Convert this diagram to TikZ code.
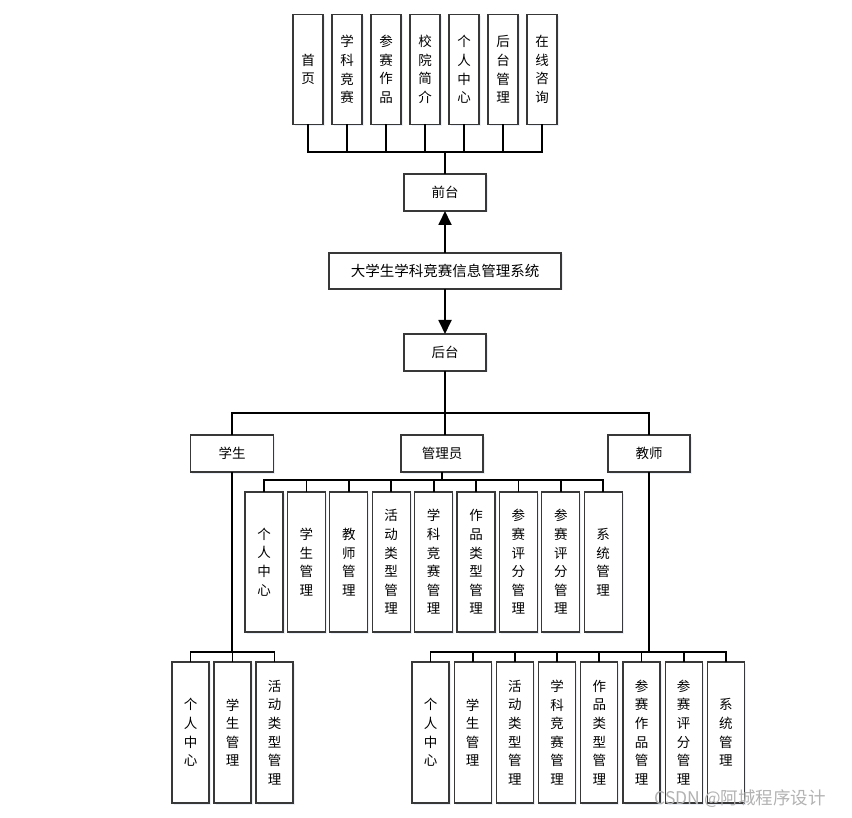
\documentclass[tikz,border=0pt]{standalone}
\usepackage{fontspec}
\newfontfamily\cjk{Noto Sans CJK SC}
\usepackage{xcolor}
\usepackage{tikz}
\usetikzlibrary{positioning,arrows.meta,shadows}
\definecolor{frame-gray}{rgb}{0.22,0.22,0.22}
\definecolor{shade-blue}{rgb}{0.55,0.65,0.85}

\begin{document}
\begin{tikzpicture}[x=1pt, y=-1pt, module/.style = {shape=rectangle,
        draw=frame-gray, line width=1.2pt, fill=white, align=center,
        inner sep=0pt, outer sep=0pt, font=\cjk\fontsize{13.5}{18.6}\selectfont,
        drop shadow={shadow xshift=1.5pt, shadow yshift=-1.5pt,
          fill=shade-blue, opacity=0.18}},
      topbox/.style = {module, minimum width=30pt, minimum height=110pt},
      headbox/.style = {module, minimum width=82pt, minimum height=37pt},
      adminbox/.style = {module, minimum width=38pt, minimum height=140pt},
      leafbox/.style = {module, minimum width=37pt, minimum height=141pt},
      link/.style = {line width=1.8pt, black},
      post/.style = {link, -{Triangle[length=14pt, width=13pt]}}]

      \useasboundingbox (0,0) rectangle (852,818);

      % front end
      \node [topbox] (fHome) at (308,69.5) {首\\页};
      \node [topbox] (fContest) [right=9pt of fHome] {学\\科\\竞\\赛};
      \node [topbox] (fWorks) [right=9pt of fContest] {参\\赛\\作\\品};
      \node [topbox] (fIntro) [right=9pt of fWorks] {校\\院\\简\\介};
      \node [topbox] (fPersonal) [right=9pt of fIntro] {个\\人\\中\\心};
      \node [topbox] (fAdmin) [right=9pt of fPersonal] {后\\台\\管\\理};
      \node [topbox] (fConsult) [right=9pt of fAdmin] {在\\线\\咨\\询};

      \node [headbox] (front) at (445,192.5) {前台};
      \node [module, minimum width=232pt, minimum height=36pt,
        font=\cjk\fontsize{14.5}{18}\selectfont] (system)
        at (445,271) {大学生学科竞赛信息管理系统};
      \node [headbox] (back) at (445,352.5) {后台};

      % roles
      \node [headbox, minimum width=83pt] (student) at (232,453.5) {学生};
      \node [headbox] (admin) at (442,453.5) {管理员};
      \node [headbox] (teacher) at (649,453.5) {教师};

      % admin modules
      \node [adminbox] (aPersonal) at (264,562) {个\\人\\中\\心};
      \node [adminbox] (aStudent) [right=4.4pt of aPersonal] {学\\生\\管\\理};
      \node [adminbox] (aTeacher) [right=4.4pt of aStudent] {教\\师\\管\\理};
      \node [adminbox] (aActivity) [right=4.4pt of aTeacher] {活\\动\\类\\型\\管\\理};
      \node [adminbox] (aContest) [right=4.4pt of aActivity] {学\\科\\竞\\赛\\管\\理};
      \node [adminbox] (aWorkType) [right=4.4pt of aContest] {作\\品\\类\\型\\管\\理};
      \node [adminbox] (aScoreA) [right=4.4pt of aWorkType] {参\\赛\\评\\分\\管\\理};
      \node [adminbox] (aScoreB) [right=4.4pt of aScoreA] {参\\赛\\评\\分\\管\\理};
      \node [adminbox] (aSystem) [right=4.4pt of aScoreB] {系\\统\\管\\理};

      % student modules
      \node [leafbox] (sPersonal) at (190.5,732.5) {个\\人\\中\\心};
      \node [leafbox] (sStudent) [right=5pt of sPersonal] {学\\生\\管\\理};
      \node [leafbox] (sActivity) [right=5pt of sStudent] {活\\动\\类\\型\\管\\理};

      % teacher modules
      \node [leafbox] (tPersonal) at (430.5,732.5) {个\\人\\中\\心};
      \node [leafbox] (tStudent) [right=5.2pt of tPersonal] {学\\生\\管\\理};
      \node [leafbox] (tActivity) [right=5.2pt of tStudent] {活\\动\\类\\型\\管\\理};
      \node [leafbox] (tContest) [right=5.2pt of tActivity] {学\\科\\竞\\赛\\管\\理};
      \node [leafbox] (tWorkType) [right=5.2pt of tContest] {作\\品\\类\\型\\管\\理};
      \node [leafbox] (tWorks) [right=5.2pt of tWorkType] {参\\赛\\作\\品\\管\\理};
      \node [leafbox] (tScore) [right=5.2pt of tWorks] {参\\赛\\评\\分\\管\\理};
      \node [leafbox] (tSystem) [right=5.2pt of tScore] {系\\统\\管\\理};

      \node [font=\cjk\fontsize{17.5}{17.5}\selectfont, text=black!30] (mark)
        at (740,799) {CSDN @阿城程序设计};

      % connectors
      \draw [link] (front.north) -- ++(0,-22) -| (fHome.south)
        (front.north) -- ++(0,-22) -| (fContest.south)
        (front.north) -- ++(0,-22) -| (fWorks.south)
        (front.north) -- ++(0,-22) -| (fIntro.south)
        (front.north) -- ++(0,-22) -| (fPersonal.south)
        (front.north) -- ++(0,-22) -| (fAdmin.south)
        (front.north) -- ++(0,-22) -| (fConsult.south);
      \draw [post] (system.north) -- (front.south);
      \draw [post] (system.south) -- (back.north);
      \draw [link] (back.south) -- ++(0,42) -| (student.north)
        (back.south) -- ++(0,42) -| (teacher.north)
        (back.south) -- (back.south |- admin.north);
      \draw [link] (admin.south) -- ++(0,8) -| (aPersonal.north)
        (admin.south) -- ++(0,8) -| (aStudent.north)
        (admin.south) -- ++(0,8) -| (aTeacher.north)
        (admin.south) -- ++(0,8) -| (aActivity.north)
        (admin.south) -- ++(0,8) -| (aContest.north)
        (admin.south) -- ++(0,8) -| (aWorkType.north)
        (admin.south) -- ++(0,8) -| (aScoreA.north)
        (admin.south) -- ++(0,8) -| (aScoreB.north)
        (admin.south) -- ++(0,8) -| (aSystem.north);
      \draw [link] (student.south) -- ++(0,180) -| (sPersonal.north)
        (student.south) -- ++(0,180) -| (sStudent.north)
        (student.south) -- ++(0,180) -| (sActivity.north);
      \draw [link] (teacher.south) -- ++(0,180) -| (tPersonal.north)
        (teacher.south) -- ++(0,180) -| (tStudent.north)
        (teacher.south) -- ++(0,180) -| (tActivity.north)
        (teacher.south) -- ++(0,180) -| (tContest.north)
        (teacher.south) -- ++(0,180) -| (tWorkType.north)
        (teacher.south) -- ++(0,180) -| (tWorks.north)
        (teacher.south) -- ++(0,180) -| (tScore.north)
        (teacher.south) -- ++(0,180) -| (tSystem.north);
    \end{tikzpicture}
\end{document}
